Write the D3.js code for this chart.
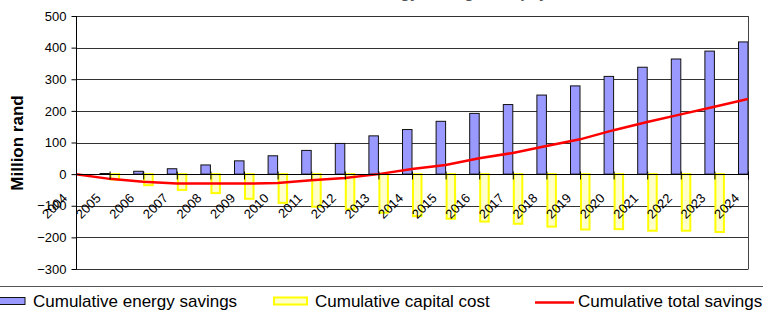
<!DOCTYPE html>
<html>
<head>
<meta charset="utf-8">
<script src="https://cdn.jsdelivr.net/npm/d3@7"></script>
<style>
  body { margin: 0; background: #fff; }
  svg { display: block; font-family: "Liberation Sans", Arial, sans-serif; }
</style>
</head>
<body>
<div id="viz"></div>
<script>
const width = 763, height = 312;

// data (million rand)
const years = ["2004","2005","2006","2007","2008","2009","2010","2011","2012","2013","2014",
               "2015","2016","2017","2018","2019","2020","2021","2022","2023","2024"];
const energySavings = [0, 2, 9, 17, 29, 42, 58, 75, 97, 121, 141, 167, 192, 220, 250, 279, 309, 338, 364, 389, 418];
const capitalCost = [0, -17, -35, -50, -60, -78, -91, -103, -111, -122, -133, -141, -150, -157, -166, -175, -174, -179, -179, -183, -185];
const totalSavings = [0, -15, -24, -30, -30, -30, -28, -19, -12, 0, 16, 29, 50, 67, 89, 110, 139, 165, 189, 213, 238];
const yTicks = [-300, -200, -100, 0, 100, 200, 300, 400, 500];

const margin = {top: 16, right: 15, bottom: 43, left: 76};

const svg = d3.select("#viz").append("svg").attr("width", width).attr("height", height);

const x = d3.scalePoint().domain(years).range([margin.left, width - margin.right]);
const y = d3.scaleLinear().domain([-300, 500]).range([height - margin.bottom, margin.top]);

// title, cut off at the top edge in the original
svg.append("text")
  .attr("x", 430).attr("y", -2)
  .attr("text-anchor", "middle")
  .attr("font-size", 16).attr("font-weight", "bold")
  .attr("fill", "#555")
  .text("Cumulative energy savings and payback");

// gridlines
svg.append("g")
  .selectAll("line").data(yTicks).join("line")
  .attr("x1", margin.left).attr("x2", width - margin.right)
  .attr("y1", d => Math.round(y(d)) + 0.5).attr("y2", d => Math.round(y(d)) + 0.5)
  .attr("stroke", "#333").attr("stroke-width", 1);

// plot frame (right edge)
svg.append("line")
  .attr("x1", width - margin.right + 0.5).attr("x2", width - margin.right + 0.5)
  .attr("y1", margin.top).attr("y2", height - margin.bottom + 0.5)
  .attr("stroke", "#444");

svg.append("defs").append("clipPath").attr("id", "plot")
  .append("rect")
  .attr("x", margin.left).attr("y", margin.top - 2)
  .attr("width", width - margin.right - margin.left)
  .attr("height", height - margin.bottom - margin.top + 4);

const plot = svg.append("g").attr("clip-path", "url(#plot)");
const bw = 9.5;

plot.append("g").selectAll("rect").data(years).join("rect")
  .attr("x", (d, i) => x(d) - bw)
  .attr("y", (d, i) => y(Math.max(0, energySavings[i])))
  .attr("width", bw)
  .attr("height", (d, i) => Math.abs(y(energySavings[i]) - y(0)))
  .attr("fill", "#9999ff").attr("stroke", "#111").attr("stroke-width", 1);

plot.append("g").selectAll("rect").data(years).join("rect")
  .attr("x", (d, i) => x(d) + 1)
  .attr("y", y(0))
  .attr("width", bw - 1)
  .attr("height", (d, i) => Math.abs(y(capitalCost[i]) - y(0)))
  .attr("fill", "#ffffcc").attr("stroke", "#ffff00").attr("stroke-width", 2);

// category axis along zero
const xAxis = g => g
  .attr("transform", `translate(0,${Math.round(y(0)) + 0.5})`)
  .call(d3.axisBottom(x).tickSize(4).tickFormat(""))
  .call(g => g.select(".domain").attr("stroke", "#000").attr("d", `M${margin.left},0H${width - margin.right}`))
  .call(g => g.selectAll(".tick line").attr("stroke", "#000").attr("y1", -3).attr("y2", 5));
svg.append("g").call(xAxis);

// category labels, rotated
svg.append("g").selectAll("text").data(years).join("text")
  .attr("transform", d => `translate(${x(d) - 8},199) rotate(-45)`)
  .attr("text-anchor", "end")
  .attr("font-size", 13)
  .attr("fill", "#000")
  .text(d => d);

// red line
plot.append("path")
  .datum(totalSavings)
  .attr("fill", "none")
  .attr("stroke", "#ff0000").attr("stroke-width", 2.5)
  .attr("d", d3.line().x((d, i) => x(years[i])).y(d => y(d)));

// value axis
const yAxis = g => g
  .attr("transform", `translate(${margin.left + 0.5},0)`)
  .call(d3.axisLeft(y).tickValues(yTicks).tickSize(5).tickPadding(5))
  .call(g => g.select(".domain").attr("stroke", "#000").attr("d", `M0,${margin.top}V${height - margin.bottom}`))
  .call(g => g.selectAll(".tick line").attr("stroke", "#000"))
  .call(g => g.selectAll(".tick text").attr("font-size", 13).attr("fill", "#000").attr("font-family", null));
svg.append("g").call(yAxis);

svg.append("text")
  .attr("transform", `translate(23,143) rotate(-90)`)
  .attr("text-anchor", "middle")
  .attr("font-size", 17).attr("font-weight", "bold")
  .text("Million rand");

// legend
svg.append("line")
  .attr("x1", 0).attr("x2", width).attr("y1", 286.5).attr("y2", 286.5)
  .attr("stroke", "#555").attr("stroke-width", 1.2);

const legendItems = [
  {name: "Cumulative energy savings", kind: "bar", x: 0},
  {name: "Cumulative capital cost", kind: "cap", x: 274},
  {name: "Cumulative total savings", kind: "line", x: 535}
];
const lg = svg.append("g").selectAll("g").data(legendItems).join("g")
  .attr("transform", d => `translate(${d.x},0)`);
lg.filter(d => d.kind === "bar").append("rect")
  .attr("x", -1).attr("y", 297.5).attr("width", 26).attr("height", 7)
  .attr("fill", "#9999ff").attr("stroke", "#111");
lg.filter(d => d.kind === "cap").append("rect")
  .attr("x", 0).attr("y", 297.5).attr("width", 33).attr("height", 7)
  .attr("fill", "#ffffcc").attr("stroke", "#ffff00").attr("stroke-width", 2);
lg.filter(d => d.kind === "line").append("line")
  .attr("x1", 0).attr("x2", 39).attr("y1", 302.5).attr("y2", 302.5)
  .attr("stroke", "#ff0000").attr("stroke-width", 2.5);
lg.append("text")
  .attr("x", d => d.kind === "bar" ? 33 : d.kind === "cap" ? 41 : 43)
  .attr("y", 307)
  .attr("font-size", 17)
  .attr("fill", "#000")
  .text(d => d.name);
</script>
</body>
</html>
